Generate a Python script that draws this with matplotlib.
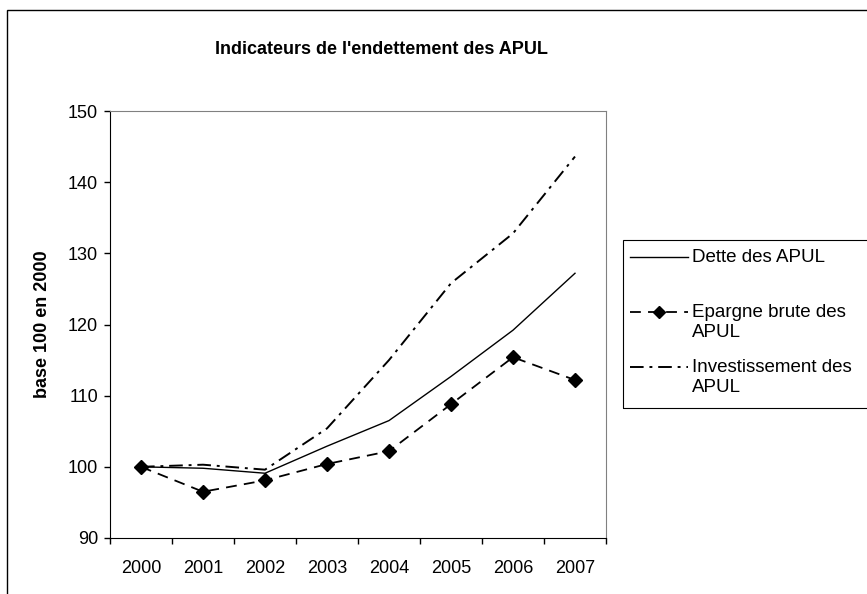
import matplotlib
matplotlib.use('Agg')
from matplotlib import pyplot as plt
from matplotlib.patches import Rectangle
from matplotlib.lines import Line2D

plt.rcParams['font.family'] = ['Liberation Sans', 'DejaVu Sans']

#Data
years     = ['2000', '2001', '2002', '2003', '2004', '2005', '2006', '2007']
dette     = [100, 99.8, 99.1, 102.9, 106.5, 112.7, 119.2, 127.2]
epargne   = [100, 96.5, 98.1, 100.4, 102.2, 108.8, 115.4, 112.2]
invest    = [100, 100.3, 99.6, 105.4, 115.0, 125.8, 132.8, 143.6]
labels    = ['Dette des APUL', 'Epargne brute des\nAPUL', 'Investissement des\nAPUL']
title     = "Indicateurs de l'endettement des APUL"
ylabel    = 'base 100 en 2000'

W, H = 867, 594
fig = plt.figure(figsize=(W / 100, H / 100), dpi=100)
ax = fig.add_axes([110 / W, 1 - 538 / H, (606 - 110) / W, (538 - 111) / H])

dash = (0, (6, 4))
dashdot = (0, (7, 3, 1.5, 3))

x = list(range(len(years)))
ax.plot(x, dette, color='black', linewidth=1.0, linestyle='-')
ax.plot(x, epargne, color='black', linewidth=1.3, linestyle=dash,
        marker='D', markersize=7.5, markerfacecolor='black')
ax.plot(x, invest, color='black', linewidth=1.4, linestyle=dashdot)

#Category axis with ticks between categories
ax.set_xlim(-0.5, len(years) - 0.5)
ax.set_xticks(x)
ax.set_xticklabels(years)
ax.set_xticks([i - 0.5 for i in range(len(years) + 1)], minor=True)
ax.tick_params(axis='x', which='major', length=0, pad=16, labelsize=13)
ax.tick_params(axis='x', which='minor', length=4.5, direction='out', width=1)

ax.set_ylim(90, 150)
ax.set_yticks(range(90, 151, 10))
ax.tick_params(axis='y', length=4.5, direction='out', width=1, pad=4, labelsize=13)
ax.set_ylabel(ylabel, fontsize=13, fontweight='bold', labelpad=12)

for s in ['top', 'right']:
    ax.spines[s].set_color('#808080')
for s in ['left', 'bottom']:
    ax.spines[s].set_color('black')

fig.text(381 / W, 1 - 50 / H, title, ha='center', va='center',
         fontsize=13, fontweight='bold')

#Outer chart-area border
fig.patches.append(Rectangle((7 / W, -0.1), 1.2, 1.1 - 10 / H, transform=fig.transFigure,
                             fill=False, edgecolor='black', linewidth=1.0, clip_on=False))

#Legend drawn by hand, Excel style
fig.patches.append(Rectangle((623 / W, 1 - 408 / H), 1.0, (408 - 240) / H,
                             transform=fig.transFigure, fill=False,
                             edgecolor='black', linewidth=0.8, clip_on=False))
styles = [dict(linestyle='-', linewidth=1.0),
          dict(linestyle=dash, linewidth=1.3, marker='D', markersize=6.5, markevery=[1]),
          dict(linestyle=dashdot, linewidth=1.4)]
rows = [257, 312, 367]
for lab, st, yy in zip(labels, styles, rows):
    yf = 1 - yy / H
    fig.lines.append(Line2D([630 / W, 659 / W, 688 / W], [yf, yf, yf], transform=fig.transFigure,
                            color='black', **st))
    fig.text(692 / W, yf + 8 / H, lab, ha='left', va='top', fontsize=13.5,
             linespacing=1.25)

fig.savefig('out.png', dpi=100)
